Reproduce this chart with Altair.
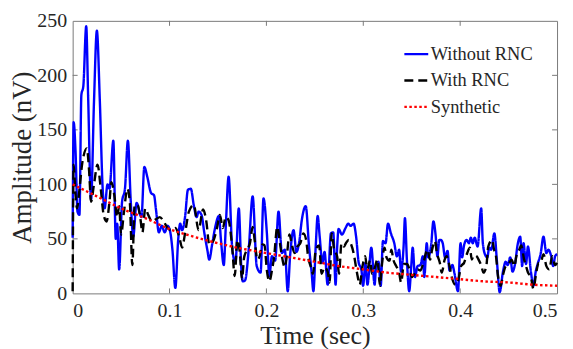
import altair as alt
import pandas as pd

# ---- data ----
blue_t = [0.000, 0.001, 0.003, 0.005, 0.007, 0.009, 0.011, 0.014, 0.016, 0.019, 0.022, 0.025, 0.028, 0.031,
          0.033, 0.036, 0.038, 0.042, 0.0445, 0.046, 0.048, 0.051, 0.054, 0.057, 0.060, 0.0625, 0.066, 0.071,
          0.074, 0.077, 0.081, 0.084, 0.086, 0.089, 0.092, 0.095, 0.098, 0.101, 0.103, 0.106, 0.109, 0.111,
          0.113, 0.116, 0.119, 0.122, 0.125, 0.128, 0.130, 0.133, 0.136, 0.139, 0.141, 0.144, 0.147, 0.151,
          0.153, 0.156, 0.158, 0.161, 0.1646, 0.168, 0.1715, 0.174, 0.1756, 0.178, 0.1817, 0.1858, 0.190,
          0.194, 0.197, 0.2005, 0.203, 0.2057, 0.209, 0.2125, 0.216, 0.219, 0.222, 0.2245, 0.228, 0.231,
          0.234, 0.2365, 0.2406, 0.244, 0.2467, 0.2485, 0.251, 0.2529, 0.255, 0.2577, 0.260, 0.2632, 0.2666,
          0.269, 0.2714, 0.273, 0.2745, 0.278, 0.2817, 0.2844, 0.287, 0.290, 0.2926, 0.2953, 0.298, 0.2998,
          0.3022, 0.3043, 0.3083, 0.3117, 0.313, 0.3157, 0.318, 0.3203, 0.323, 0.3255, 0.3285, 0.332, 0.3347,
          0.337, 0.339, 0.3416, 0.343, 0.345, 0.3474, 0.3495, 0.351, 0.3534, 0.356, 0.359, 0.3615, 0.363,
          0.3655, 0.367, 0.370, 0.3724, 0.3747, 0.3765, 0.3785, 0.380, 0.382, 0.3844, 0.387, 0.389, 0.392,
          0.394, 0.3977, 0.4004, 0.402, 0.404, 0.4066, 0.409, 0.411, 0.413, 0.415, 0.418, 0.4217, 0.4234,
          0.426, 0.428, 0.430, 0.432, 0.4353, 0.438, 0.4408, 0.4442, 0.447, 0.449, 0.4517, 0.454, 0.457,
          0.459, 0.462, 0.464, 0.4654, 0.468, 0.470, 0.473, 0.4757, 0.478, 0.480, 0.483, 0.486, 0.489, 0.491,
          0.494, 0.496, 0.498, 0.500]
blue_v = [51, 157, 130, 75, 72, 182, 190, 245, 180, 86, 175, 241, 178, 96,
          78, 100, 96, 140, 50, 64, 22, 84, 96, 140, 84, 52, 83, 70,
          116, 107, 92, 90, 77, 56, 62, 56, 62, 55, 40, 5, 50, 64,
          58, 70, 95, 96, 81, 70, 75, 72, 55, 40, 31, 45, 60, 71,
          50, 26, 60, 107, 43, 28, 78, 25, 11, 12, 40, 89, 25,
          19, 87, 55, 16, 34, 30, 75, 37, 40, 2, 35, 58, 38,
          48, 67, 80, 43, 19, 2, 45, 71, 52, 28, 38, 8, 55,
          56, 8, 42, 59, 54, 60, 64, 62, 64, 52, 28, 22, 7,
          28, 8, 42, 8, 22, 29, 7, 48, 46, 64, 55, 46, 34,
          40, 20, 43, 69, 31, 2, 25, 42, 15, 25, 26, 34, 15,
          46, 33, 44, 66, 53, 34, 49, 49, 46, 33, 39, 21, 26,
          19, 2, 46, 33, 44, 49, 46, 51, 46, 51, 43, 78, 46,
          35, 33, 42, 40, 55, 29, 1, 20, 29, 26, 33, 20, 29,
          43, 52, 25, 46, 27, 43, 20, 7, 20, 27, 36, 52, 37, 40,
          34, 25, 34, 36]

black_t = [0.000, 0.001, 0.003, 0.0045, 0.007, 0.010, 0.0147, 0.017, 0.019, 0.022, 0.0257, 0.029, 0.032,
           0.035, 0.038, 0.040, 0.043, 0.046, 0.048, 0.050, 0.053, 0.0565, 0.059, 0.0616, 0.064, 0.067,
           0.070, 0.072, 0.075, 0.078, 0.082, 0.086, 0.090, 0.094, 0.098, 0.102, 0.106, 0.110, 0.113, 0.116,
           0.120, 0.125, 0.130, 0.1346, 0.138, 0.141, 0.145, 0.149, 0.152, 0.155, 0.158, 0.161, 0.1646,
           0.1673, 0.170, 0.1725, 0.1748, 0.177, 0.180, 0.183, 0.1858, 0.188, 0.1907, 0.193, 0.196, 0.198,
           0.2005, 0.203, 0.2057, 0.208, 0.2112, 0.214, 0.216, 0.219, 0.221, 0.2238, 0.226, 0.229, 0.232,
           0.235, 0.2382, 0.241, 0.243, 0.246, 0.248, 0.251, 0.2544, 0.257, 0.260, 0.2632, 0.2653, 0.2673,
           0.270, 0.273, 0.275, 0.2775, 0.280, 0.282, 0.285, 0.287, 0.290, 0.2935, 0.2964, 0.299, 0.302,
           0.304, 0.307, 0.309, 0.312, 0.3145, 0.3173, 0.319, 0.3219, 0.324, 0.327, 0.329, 0.331, 0.334,
           0.337, 0.339, 0.342, 0.3452, 0.348, 0.350, 0.353, 0.356, 0.359, 0.362, 0.3662, 0.369, 0.371,
           0.3739, 0.376, 0.379, 0.381, 0.384, 0.386, 0.389, 0.391, 0.395, 0.398, 0.401, 0.404, 0.4073,
           0.410, 0.412, 0.414, 0.417, 0.419, 0.422, 0.424, 0.427, 0.429, 0.433, 0.435, 0.437, 0.439, 0.442,
           0.444, 0.447, 0.450, 0.453, 0.456, 0.458, 0.461, 0.463, 0.466, 0.468, 0.470, 0.473, 0.4757,
           0.478, 0.481, 0.483, 0.486, 0.489, 0.492, 0.495, 0.498, 0.500]
black_v = [2, 118, 90, 78, 95, 120, 133, 112, 84, 100, 118, 96, 72,
           66, 84, 102, 90, 70, 80, 54, 75, 96, 84, 26, 81, 81,
           68, 56, 78, 72, 66, 68, 70, 66, 60, 58, 60, 52, 42, 55,
           75, 81, 58, 77, 66, 45, 48, 60, 72, 60, 70, 67, 43,
           16, 49, 38, 13, 33, 40, 46, 61, 48, 31, 34, 45, 44,
           21, 11, 21, 34, 61, 46, 34, 24, 34, 54, 46, 37, 43,
           46, 55, 49, 34, 24, 18, 40, 44, 18, 24, 20, 10, 55,
           40, 34, 18, 46, 43, 46, 49, 46, 37, 19, 8, 24, 34,
           22, 30, 18, 24, 31, 7, 24, 42, 33, 30, 40, 31, 25,
           19, 10, 27, 27, 21, 15, 18, 22, 21, 28, 40, 31, 40,
           48, 37, 28, 19, 31, 34, 25, 16, 8, 12, 25, 28, 37,
           42, 31, 35, 34, 31, 25, 19, 25, 43, 49, 40, 34, 16, 7,
           16, 25, 27, 31, 25, 34, 40, 44, 31, 25, 19, 15, 4,
           16, 28, 28, 36, 25, 22, 34, 26, 28]

synth_t = [0.000, 0.025, 0.050, 0.075, 0.100, 0.125, 0.150, 0.175, 0.200, 0.225, 0.250,
           0.275, 0.300, 0.325, 0.350, 0.375, 0.400, 0.425, 0.450, 0.475, 0.500]
synth_v = [100, 89, 78, 69, 59, 52, 46, 41, 37, 33, 29, 25, 22, 19, 17, 15, 13, 11, 10, 8, 7]

series_names = ["Without RNC", "With RNC", "Synthetic"]
series_colors = ["#0000ff", "#000000", "#ff0000"]
series_dash = [[1, 0], [9, 5], [2.5, 2.5]]

x_ticks = [0, 0.1, 0.2, 0.3, 0.4, 0.5]
y_ticks = [0, 50, 100, 150, 200, 250]
inner_x_ticks = [0.1, 0.2, 0.3, 0.4]
inner_y_ticks = [50, 100, 150, 200]

W, H = 487, 274

rows = []
for name, ts, vs in zip(series_names, [blue_t, black_t, synth_t], [blue_v, black_v, synth_v]):
    for i, (t, v) in enumerate(zip(ts, vs)):
        rows.append({"series": name, "t": t, "v": v, "order": i})
df = pd.DataFrame(rows)

xscale = alt.Scale(domain=[0, 0.5], nice=False, zero=False)
yscale = alt.Scale(domain=[0, 250], nice=False)

FONT = "Liberation Serif, Times New Roman, serif"
TXT = "#262626"

legend_cfg = dict(title=None, orient="none", legendX=332, legendY=20,
                  symbolType="stroke", symbolSize=576, symbolStrokeWidth=2.4,
                  labelFontSize=18.5, labelFont=FONT, labelColor=TXT, labelOffset=1,
                  rowPadding=3.5, padding=0)

axis_common = dict(grid=False, ticks=False, domain=False,
                   labelFont=FONT, titleFont=FONT, labelFontSize=20,
                   labelColor=TXT, titleColor=TXT, titleFontWeight="normal")

lines = alt.Chart(df).mark_line(strokeWidth=2.4, interpolate="monotone").encode(
    x=alt.X("t:Q", scale=xscale,
            axis=alt.Axis(values=x_ticks, format="~g", title="Time (sec)", titleFontSize=26,
                          labelPadding=7, titlePadding=2, **axis_common)),
    y=alt.Y("v:Q", scale=yscale,
            axis=alt.Axis(values=y_ticks, title="Amplitude (nV)", titleFontSize=27,
                          labelPadding=6, titlePadding=0, **axis_common)),
    color=alt.Color("series:N", sort=series_names,
                    scale=alt.Scale(domain=series_names, range=series_colors),
                    legend=alt.Legend(**legend_cfg)),
    strokeDash=alt.StrokeDash("series:N", sort=series_names,
                              scale=alt.Scale(domain=series_names, range=series_dash),
                              legend=alt.Legend(**legend_cfg)),
    order="order:Q",
)

tx = pd.DataFrame({"t": inner_x_ticks})
ty = pd.DataFrame({"v": inner_y_ticks})
TICK = 5
tick_style = dict(color="#7a7a7a", strokeWidth=1)

bottom = alt.Chart(tx).mark_rule(**tick_style).encode(
    x=alt.X("t:Q", scale=xscale), y=alt.value(H), y2=alt.value(H - TICK))
top = alt.Chart(tx).mark_rule(**tick_style).encode(
    x=alt.X("t:Q", scale=xscale), y=alt.value(0), y2=alt.value(TICK))
left = alt.Chart(ty).mark_rule(**tick_style).encode(
    y=alt.Y("v:Q", scale=yscale), x=alt.value(0), x2=alt.value(TICK))
right = alt.Chart(ty).mark_rule(**tick_style).encode(
    y=alt.Y("v:Q", scale=yscale), x=alt.value(W), x2=alt.value(W - TICK))

chart = alt.layer(bottom, top, left, right, lines).properties(
    width=W, height=H,
    background="white",
    autosize=alt.AutoSizeParams(type="none"),
    padding={"left": 65, "top": 12, "right": 8, "bottom": 55},
).configure_view(
    stroke="#7a7a7a", strokeWidth=1
)

chart.save("out.html", embed_options={"renderer": "svg", "actions": False})
